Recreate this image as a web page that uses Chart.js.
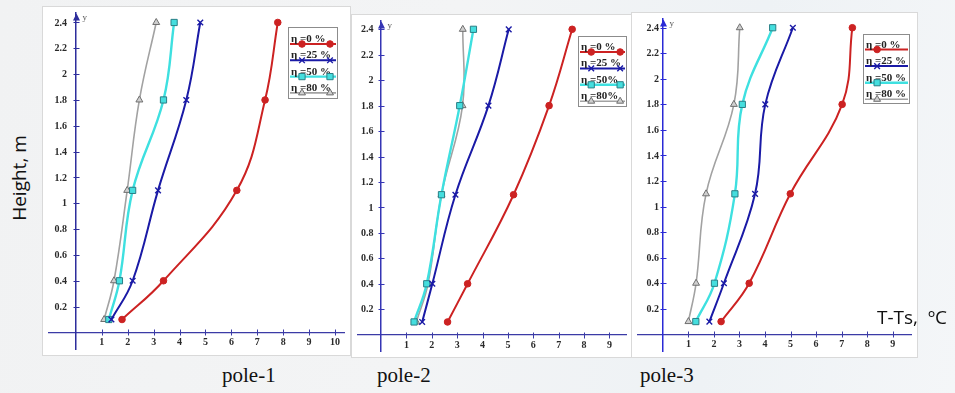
<!DOCTYPE html>
<html>
<head>
<meta charset="utf-8">
<script src="https://cdn.jsdelivr.net/npm/chart.js@4.4.1/dist/chart.umd.min.js"></script>
<style>
  html, body { margin: 0; padding: 0; }
  body {
    width: 955px; height: 393px; overflow: hidden; position: relative;
    background: linear-gradient(100deg, #f1f2f3 0%, #f3f4f5 45%, #eef2f5 75%, #f4f6f8 100%);
  }
  .panel { position: absolute; background: #fff; box-shadow: 0 0 0 1px #d9d9d9; }
  .panel canvas { display: block; }
  .txt { position: absolute; white-space: nowrap; color: #111; line-height: 1; }
  .pole { font-family: "Liberation Serif", "Times New Roman", serif; font-size: 21px; }
  .sans { font-family: "Open Sans", "Liberation Sans", sans-serif; font-size: 19px; }
</style>
</head>
<body>
<div class="panel" style="left:43px;top:7px;width:307px;height:348px"><canvas id="pole1" width="307" height="348"></canvas></div>
<div class="panel" style="left:352px;top:15px;width:280px;height:342px"><canvas id="pole2" width="280" height="342"></canvas></div>
<div class="panel" style="left:632px;top:13px;width:285px;height:344px"><canvas id="pole3" width="285" height="344"></canvas></div>

<div class="txt sans" style="left:19px;top:178px;transform:translate(-50%,-50%) rotate(-90deg);">Height, m</div>
<div class="txt sans" style="left:877px;top:308px;">T-Ts,&nbsp; ºC</div>
<div class="txt pole" style="left:222px;top:365px;">pole-1</div>
<div class="txt pole" style="left:377px;top:365px;">pole-2</div>
<div class="txt pole" style="left:640px;top:365px;">pole-3</div>

<script>
// Measurement heights (m) shared by every series
const heights = [0.1, 0.4, 1.1, 1.8, 2.4];

// Temperature difference T-Ts (°C) at each height, per pole and humidity level
const pole1Eta0  = [1.78, 3.38, 6.21, 7.30, 7.79];
const pole1Eta25 = [1.37, 2.19, 3.17, 4.26, 4.80];
const pole1Eta50 = [1.27, 1.68, 2.19, 3.38, 3.79];
const pole1Eta80 = [1.09, 1.47, 1.98, 2.45, 3.10];

const pole2Eta0  = [2.62, 3.41, 5.22, 6.62, 7.53];
const pole2Eta25 = [1.62, 2.02, 2.93, 4.23, 5.03];
const pole2Eta50 = [1.30, 1.80, 2.38, 3.10, 3.64];
const pole2Eta80 = [1.39, 1.85, 2.38, 3.21, 3.22];

const pole3Eta0  = [2.28, 3.38, 4.99, 7.02, 7.42];
const pole3Eta25 = [1.82, 2.39, 3.61, 4.01, 5.09];
const pole3Eta50 = [1.29, 2.02, 2.82, 3.11, 4.30];
const pole3Eta80 = [1.00, 1.30, 1.69, 2.78, 3.01];

// Legend texts
const labelsA = ["η =0 %", "η =25 %", "η =50 %", "η =80 %"];
const labelsB = ["η =0 %", "η =25 %", "η =50%", "η =80%"];

// Tick values
const xTicksTen  = [1, 2, 3, 4, 5, 6, 7, 8, 9, 10];
const xTicksNine = [1, 2, 3, 4, 5, 6, 7, 8, 9];
const yTicks = [0.2, 0.4, 0.6, 0.8, 1, 1.2, 1.4, 1.6, 1.8, 2, 2.2, 2.4];

// Line and marker styles for η = 0, 25, 50, 80 %
const seriesStyle = [
  { borderColor: '#cc2222', borderWidth: 2, pointStyle: 'circle', pointRadius: 3.3,
    pointBackgroundColor: '#cc2222', pointBorderColor: '#cc2222', pointBorderWidth: 1 },
  { borderColor: '#1a1aa6', borderWidth: 2, pointStyle: 'crossRot', pointRadius: 4,
    pointBackgroundColor: '#1a1aa6', pointBorderColor: '#1a1aa6', pointBorderWidth: 1.4 },
  { borderColor: '#3ee0e0', borderWidth: 2.4, pointStyle: 'rect', pointRadius: 4.4,
    pointBackgroundColor: '#45dede', pointBorderColor: '#2a7f86', pointBorderWidth: 1 },
  { borderColor: '#a2a2a2', borderWidth: 1.6, pointStyle: 'triangle', pointRadius: 4,
    pointBackgroundColor: '#cfcfcf', pointBorderColor: '#6f6f6f', pointBorderWidth: 1 }
];

const tickFont = 'bold 10px "Liberation Serif", "Times New Roman", serif';

// Axis tick crosses, tick labels, arrow head and the little "y" caption
const axisDecor = {
  id: 'axisDecor',
  beforeDatasetsDraw(chart, args, o) {
    const { ctx, chartArea, scales: { x, y } } = chart;
    const x0 = Math.round(x.getPixelForValue(0)) + 0.5;
    const y0 = Math.round(y.getPixelForValue(0)) + 0.5;
    ctx.save();
    ctx.lineWidth = 1;
    ctx.strokeStyle = o.xColor;
    x.ticks.forEach(t => {
      const px = Math.round(x.getPixelForValue(t.value)) + 0.5;
      ctx.beginPath(); ctx.moveTo(px, y0 - 3); ctx.lineTo(px, y0 + 3); ctx.stroke();
    });
    ctx.strokeStyle = o.yColor;
    y.ticks.forEach(t => {
      const py = Math.round(y.getPixelForValue(t.value)) + 0.5;
      ctx.beginPath(); ctx.moveTo(x0 - 3, py); ctx.lineTo(x0 + 3, py); ctx.stroke();
    });
    // labels
    ctx.font = tickFont;
    ctx.fillStyle = '#2a2a2a';
    ctx.textAlign = 'center';
    ctx.textBaseline = 'alphabetic';
    x.ticks.forEach(t => {
      ctx.fillText(String(t.value), x.getPixelForValue(t.value), y0 + 12);
    });
    ctx.textAlign = 'right';
    ctx.textBaseline = 'middle';
    y.ticks.forEach(t => {
      ctx.fillText(String(+t.value.toFixed(1)), x0 - o.yGap, y.getPixelForValue(t.value) + 0.5);
    });
    // arrow head on the vertical axis
    ctx.fillStyle = o.yColor;
    const top = chartArea.top + o.arrowTop;
    ctx.beginPath();
    ctx.moveTo(x0, top);
    ctx.lineTo(x0 - 3.5, top + 7);
    ctx.lineTo(x0 + 3.5, top + 7);
    ctx.closePath();
    ctx.fill();
    ctx.font = '9px "Liberation Serif", serif';
    ctx.fillStyle = '#555';
    ctx.textAlign = 'left';
    ctx.textBaseline = 'alphabetic';
    ctx.fillText('y', x0 + 6, top + 7);
    ctx.restore();
  }
};

function drawMarker(ctx, ds, x, y) {
  ctx.save();
  ctx.fillStyle = ds.pointBackgroundColor;
  ctx.strokeStyle = ds.pointBorderColor;
  ctx.lineWidth = ds.pointBorderWidth;
  Chart.helpers.drawPoint(ctx, {
    pointStyle: ds.pointStyle, radius: ds.pointRadius, rotation: 0, borderWidth: ds.pointBorderWidth
  }, x, y);
  ctx.restore();
}

// Boxed legend: label text above a sample line carrying the series markers
const boxLegend = {
  id: 'boxLegend',
  afterDraw(chart, args, o) {
    const { ctx } = chart;
    ctx.save();
    ctx.fillStyle = '#fff';
    ctx.fillRect(o.x, o.y, o.w, o.h);
    ctx.strokeStyle = '#8c8c8c';
    ctx.lineWidth = 1;
    ctx.strokeRect(o.x + 0.5, o.y + 0.5, o.w - 1, o.h - 1);
    chart.data.datasets.forEach((ds, i) => {
      const ly = o.y + o.first + i * o.step;
      ctx.strokeStyle = ds.borderColor;
      ctx.lineWidth = ds.borderWidth;
      ctx.beginPath(); ctx.moveTo(o.x + 2, ly); ctx.lineTo(o.x + o.w - 2, ly); ctx.stroke();
      ctx.font = 'bold 11px "Liberation Serif", "Times New Roman", serif';
      ctx.fillStyle = '#222';
      ctx.textAlign = 'left';
      ctx.textBaseline = 'alphabetic';
      ctx.fillText(ds.label, o.x + 3, ly - 2);
      o.markers.forEach(f => drawMarker(ctx, ds, o.x + f * o.w, ly));
    });
    ctx.restore();
  }
};

function makePanel(id, series, labels, cfg) {
  const datasets = series.map((vals, i) => Object.assign({
    label: labels[i],
    data: heights.map((h, j) => ({ x: vals[j], y: h })),
    showLine: true,
    fill: false,
    tension: 0.4
  }, seriesStyle[i]));
  return new Chart(document.getElementById(id), {
    type: 'scatter',
    data: { datasets },
    options: {
      responsive: false,
      animation: false,
      events: [],
      layout: { padding: 0 },
      plugins: {
        legend: { display: false },
        tooltip: { enabled: false },
        axisDecor: { xColor: cfg.xColor, yColor: cfg.yColor, yGap: cfg.yGap, arrowTop: cfg.arrowTop },
        boxLegend: cfg.legend
      },
      scales: {
        x: {
          type: 'linear', min: cfg.xMin, max: cfg.xMax, position: { y: 0 },
          grid: { display: false },
          border: { display: true, color: cfg.xColor, width: 1.3 },
          ticks: { display: false },
          afterBuildTicks: s => { s.ticks = cfg.xTicks.map(v => ({ value: v })); }
        },
        y: {
          type: 'linear', min: cfg.yMin, max: cfg.yMax, position: { x: 0 },
          grid: { display: false },
          border: { display: true, color: cfg.yColor, width: 1.5 },
          ticks: { display: false },
          afterBuildTicks: s => { s.ticks = yTicks.map(v => ({ value: v })); }
        }
      }
    },
    plugins: [axisDecor, boxLegend]
  });
}

makePanel('pole1', [pole1Eta0, pole1Eta25, pole1Eta50, pole1Eta80], labelsA, {
  xMin: -1.061, xMax: 10.369, yMin: -0.133, yMax: 2.478, xTicks: xTicksTen,
  xColor: '#3b3ba6', yColor: '#2d2d9c', yGap: 9.5, arrowTop: 1,
  legend: { x: 245, y: 20, w: 50, h: 72, first: 17, step: 16.3, markers: [0.28, 0.84] }
});
makePanel('pole2', [pole2Eta0, pole2Eta25, pole2Eta50, pole2Eta80], labelsB, {
  xMin: -0.932, xMax: 9.674, yMin: -0.133, yMax: 2.470, xTicks: xTicksNine,
  xColor: '#3b3ba6', yColor: '#3535b4', yGap: 8, arrowTop: 1,
  legend: { x: 226, y: 21, w: 49, h: 71, first: 16, step: 16.4, markers: [0.27, 0.86] }
});
makePanel('pole3', [pole3Eta0, pole3Eta25, pole3Eta50, pole3Eta80], labelsA, {
  xMin: -0.998, xMax: 9.740, yMin: -0.135, yMax: 2.473, xTicks: xTicksNine,
  xColor: '#3b3ba6', yColor: '#2a2ad6', yGap: 4.5, arrowTop: 1,
  legend: { x: 231, y: 21, w: 47, h: 70, first: 15.5, step: 16.6, markers: [0.3] }
});
</script>
</body>
</html>
